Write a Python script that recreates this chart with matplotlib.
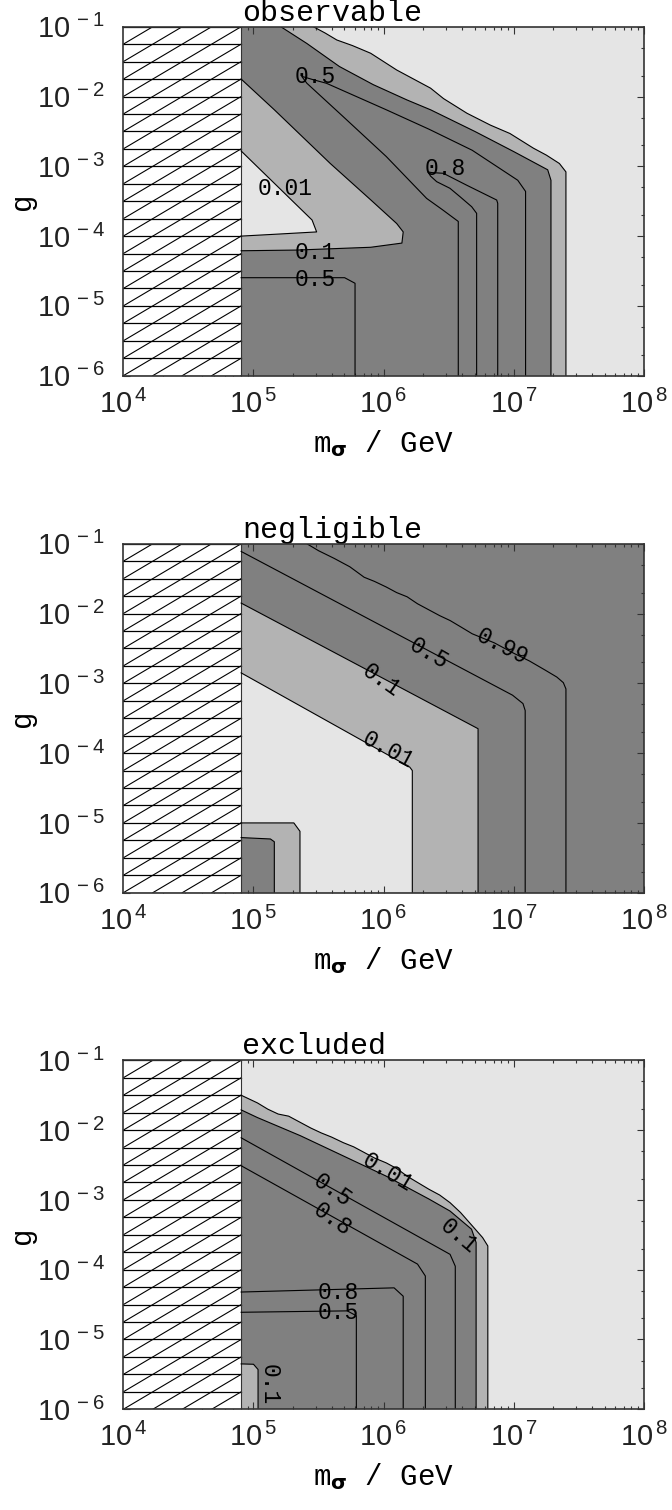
"""
Three panels of the sigma mass / coupling plane, shaded by fraction
(observable, negligible, excluded), with the hatched mass cut on the left.
"""

import numpy as np
import matplotlib.pyplot as plt
from matplotlib.ticker import LogLocator, NullFormatter, FuncFormatter
import matplotlib.patches as patches

plt.rcParams['font.family'] = 'Liberation Sans'
plt.rcParams['mathtext.fontset'] = 'custom'
plt.rcParams['mathtext.bf'] = 'DejaVu Sans:bold'

DARK = '#808080'
MID = '#b3b3b3'
LIGHT = '#e5e5e5'
MONO = 'Liberation Mono'

# log10 of the mass cut, everything left of it is hatched
M_CUT = 4.905

# ---- observable: contour lines as (log10 m, log10 g) ----
obs_out001_m = [5.46, 5.55, 5.64, 5.76, 5.90, 6.00, 6.10, 6.22, 6.36, 6.46, 6.64, 6.82, 6.97, 7.15, 7.25, 7.35, 7.40, 7.40]
obs_out001_g = [-1.00, -1.09, -1.19, -1.27, -1.38, -1.50, -1.62, -1.74, -1.88, -2.03, -2.24, -2.41, -2.53, -2.74, -2.84, -2.96, -3.08, -6.0]
obs_out01_m = [5.21, 5.41, 5.66, 5.92, 6.18, 6.36, 6.70, 7.00, 7.26, 7.285, 7.285]
obs_out01_g = [-1.00, -1.24, -1.57, -1.83, -2.05, -2.19, -2.50, -2.79, -3.05, -3.20, -6.0]
obs_in01_m = [M_CUT, 5.16, 5.59, 5.90, 6.10, 6.15, 6.14, 5.90, 5.33, M_CUT]
obs_in01_g = [-1.75, -2.19, -2.96, -3.48, -3.82, -3.94, -4.10, -4.16, -4.20, -4.21]
obs_in001_m = [M_CUT, 5.45, 5.485, 5.20, M_CUT]
obs_in001_g = [-2.78, -3.77, -3.94, -3.97, -4.00]
obs_05up_m = [6.573, 6.573, 6.45, 6.33, 6.02, 5.69, 5.41, 5.37, 5.46, 5.56, 6.02, 6.35, 6.68, 7.03, 7.06, 7.09, 7.09]
obs_05up_g = [-6.0, -3.79, -3.62, -3.46, -2.86, -2.29, -1.81, -1.71, -1.76, -1.81, -2.19, -2.47, -2.77, -3.20, -3.28, -3.36, -6.0]
obs_08_m = [6.714, 6.714, 6.676, 6.586, 6.509, 6.407, 6.36, 6.34, 6.37, 6.458, 6.637, 6.868, 6.876, 6.876]
obs_08_g = [-6.0, -3.674, -3.579, -3.435, -3.315, -3.22, -3.14, -3.08, -3.09, -3.10, -3.27, -3.483, -3.53, -6.0]
obs_05lo_m = [M_CUT, 5.70, 5.78, 5.78]
obs_05lo_g = [-4.596, -4.596, -4.676, -6.0]
obs_labels = ['0.5', '0.8', '0.01', '0.1', '0.5']
obs_label_m = [5.478, 6.476, 5.242, 5.478, 5.478]
obs_label_g = [-1.716, -3.03, -3.315, -4.232, -4.619]
obs_label_rot = [0, 0, 0, 0, 0]

# ---- negligible ----
neg_099_m = [5.41, 5.50, 5.62, 5.74, 5.85, 5.93, 6.02, 6.10, 6.18, 6.26, 6.35, 6.43, 6.51, 6.60, 6.68, 6.85, 7.00, 7.12, 7.24, 7.33, 7.38, 7.40, 7.40]
neg_099_g = [-1.00, -1.10, -1.21, -1.33, -1.48, -1.54, -1.62, -1.70, -1.76, -1.86, -1.95, -2.03, -2.10, -2.20, -2.29, -2.42, -2.57, -2.68, -2.81, -2.91, -2.99, -3.08, -6.0]
neg_05_m = [M_CUT, 6.99, 7.07, 7.087, 7.087]
neg_05_g = [-1.11, -3.17, -3.29, -3.39, -6.0]
neg_01_m = [M_CUT, 6.725, 6.725]
neg_01_g = [-1.85, -3.65, -6.0]
neg_001_m = [M_CUT, 6.20, 6.22, 6.22]
neg_001_g = [-2.85, -4.20, -4.25, -6.0]
neg_boxlo_m = [M_CUT, 5.31, 5.357, 5.357]
neg_boxlo_g = [-5.0, -5.0, -5.12, -6.0]
neg_boxhi_m = [M_CUT, 5.13, 5.16, 5.16]
neg_boxhi_g = [-5.21, -5.23, -5.27, -6.0]
neg_labels = ['0.99', '0.5', '0.1', '0.01']
neg_label_m = [6.906, 6.346, 5.984, 6.033]
neg_label_g = [-2.48, -2.576, -2.958, -3.961]
neg_label_rot = [-27, -30, -35, -28]

# ---- excluded ----
exc_001_m = [M_CUT, 5.03, 5.11, 5.19, 5.27, 5.36, 5.44, 5.52, 5.60, 5.69, 5.77, 5.85, 5.93, 6.02, 6.10, 6.18, 6.26, 6.35, 6.43, 6.51, 6.59, 6.68, 6.76, 6.80, 6.80]
exc_001_g = [-1.50, -1.61, -1.70, -1.77, -1.80, -1.89, -1.97, -2.04, -2.10, -2.18, -2.24, -2.32, -2.40, -2.47, -2.55, -2.66, -2.75, -2.85, -2.93, -3.04, -3.18, -3.37, -3.54, -3.66, -6.0]
exc_01_m = [M_CUT, 5.03, 5.36, 5.69, 6.02, 6.35, 6.51, 6.675, 6.71, 6.71]
exc_01_g = [-1.71, -1.82, -2.08, -2.37, -2.66, -2.99, -3.16, -3.42, -3.61, -6.0]
exc_05_m = [M_CUT, 6.51, 6.55, 6.55]
exc_05_g = [-2.11, -3.78, -3.95, -6.0]
exc_08_m = [M_CUT, 6.26, 6.32, 6.32]
exc_08_g = [-2.51, -3.92, -4.09, -6.0]
exc_08lo_m = [M_CUT, 6.08, 6.15, 6.15]
exc_08lo_g = [-4.32, -4.26, -4.38, -6.0]
exc_05lo_m = [M_CUT, 5.72, 5.79, 5.79]
exc_05lo_g = [-4.61, -4.59, -4.66, -6.0]
exc_box_m = [M_CUT, 5.0, 5.035, 5.035]
exc_box_g = [-5.35, -5.355, -5.43, -6.0]
exc_labels = ['0.01', '0.5', '0.8', '0.1', '0.8', '0.5', '0.1']
exc_label_m = [6.033, 5.605, 5.605, 6.577, 5.654, 5.654, 5.12]
exc_label_g = [-2.609, -2.872, -3.278, -3.517, -4.329, -4.616, -5.642]
exc_label_rot = [-31, -35, -35, -40, 0, 0, -90]


def fillregion(ax, lm, lg, color):
    """
    Fills the area between a contour line and the mass cut / bottom edge
    """
    pts = list(zip(lm, lg))
    if lg[0] == -1.0:
        pts.insert(0, (M_CUT, -1.0))
    if lg[-1] == -6.0:
        pts.append((M_CUT, -6.0))
    pts = np.array(pts)
    ax.fill(10 ** pts[:, 0], 10 ** pts[:, 1], color=color, lw=0, zorder=1)


def hatch(ax):
    """
    White box left of the mass cut with horizontal and slanted lines
    """
    rect = patches.Rectangle((1e4, 1e-6), 10 ** M_CUT - 1e4, 1e-1 - 1e-6,
                             facecolor='white', edgecolor='none', zorder=2)
    ax.add_patch(rect)
    for k in range(21):
        y = 10 ** (-6 + k * 0.25)
        ax.plot([1e4, 10 ** M_CUT], [y, y], color='k', lw=0.9, zorder=3)
    dm = (M_CUT - 4) / 4
    for k in range(-25, 6):
        lm = np.array([4 + k * dm, 4 + (k + 25) * dm])
        lg = -6 + (lm - 4 - k * dm) * 0.25 / dm
        line, = ax.plot(10 ** lm, 10 ** lg, color='k', lw=0.8, zorder=3)
        line.set_clip_path(rect)
    ax.axvline(10 ** M_CUT, color='#333333', lw=0.8, zorder=3)


def powlabel(v, pos):
    """ 10^n tick label with a little gap before the exponent """
    return r'$\mathdefault{10^{\,%d}}$' % int(round(np.log10(v)))


def setupaxes(ax, title):
    """
    Log axes, ticks inward all round, labels and title
    """
    ax.set_xscale('log')
    ax.set_yscale('log')
    ax.set_xlim(1e4, 1e8)
    ax.set_ylim(1e-6, 1e-1)
    ax.xaxis.set_major_locator(LogLocator(base=10, numticks=10))
    ax.yaxis.set_major_locator(LogLocator(base=10, numticks=10))
    ax.xaxis.set_minor_locator(LogLocator(base=10, subs=range(2, 10), numticks=20))
    ax.yaxis.set_minor_locator(LogLocator(base=10, subs=(2, 5), numticks=20))
    ax.xaxis.set_major_formatter(FuncFormatter(powlabel))
    ax.yaxis.set_major_formatter(FuncFormatter(powlabel))
    ax.xaxis.set_minor_formatter(NullFormatter())
    ax.yaxis.set_minor_formatter(NullFormatter())
    ax.tick_params(which='both', direction='in', top=True, right=True,
                   color='#333333', width=0.8, labelsize=21, labelcolor='#222222')
    ax.tick_params(which='major', length=5)
    ax.tick_params(which='minor', length=2.5)
    ax.tick_params(axis='x', which='major', pad=10)
    ax.tick_params(axis='y', which='major', pad=13)
    for sp in ax.spines.values():
        sp.set_linewidth(1.2)
        sp.set_color('#333333')
        sp.set_zorder(6)
    ax.set_xlabel(r'm$_{\mathbf{σ}}$ / GeV', fontfamily=MONO, fontsize=21)
    ax.xaxis.set_label_coords(0.5, -0.15)
    ax.set_ylabel('g', fontfamily=MONO, fontsize=21)
    ax.yaxis.set_label_coords(-0.168, 0.5)
    ax.text(0.228, 1.017, title, transform=ax.transAxes, fontfamily=MONO,
            fontsize=21.6, va='baseline', ha='left')


def plotpanel(ax, base, fills, lines, labels, title):
    """
    Draws one panel: shading, contour lines, labels, hatch and axes
    """
    ax.fill([10 ** M_CUT, 1e8, 1e8, 10 ** M_CUT], [1e-6, 1e-6, 1e-1, 1e-1],
            color=base, lw=0, zorder=0)
    for lm, lg, color in fills:
        fillregion(ax, lm, lg, color)
    for lm, lg in lines:
        ax.plot(10 ** np.array(lm), 10 ** np.array(lg), color='k', lw=0.8, zorder=4)
    for txt, lm, lg, rot in zip(*labels):
        ax.text(10 ** lm, 10 ** lg, txt, rotation=rot, ha='center', va='center',
                rotation_mode='anchor', fontfamily=MONO, fontsize=16.5, zorder=5)
    hatch(ax)
    setupaxes(ax, title)


fig = plt.figure(figsize=(6.72, 15.10), dpi=100)
left, width, height = 0.1835, 0.7749, 0.2311
ax1 = fig.add_axes([left, 0.7512, width, height])
ax2 = fig.add_axes([left, 0.4088, width, height])
ax3 = fig.add_axes([left, 0.0667, width, height])

plotpanel(ax1, LIGHT,
          [(obs_out001_m, obs_out001_g, MID), (obs_out01_m, obs_out01_g, DARK),
           (obs_in01_m, obs_in01_g, MID), (obs_in001_m, obs_in001_g, LIGHT)],
          [(obs_out001_m, obs_out001_g), (obs_out01_m, obs_out01_g),
           (obs_in01_m, obs_in01_g), (obs_in001_m, obs_in001_g),
           (obs_05up_m, obs_05up_g), (obs_08_m, obs_08_g), (obs_05lo_m, obs_05lo_g)],
          (obs_labels, obs_label_m, obs_label_g, obs_label_rot), 'observable')

plotpanel(ax2, DARK,
          [(neg_01_m, neg_01_g, MID), (neg_001_m, neg_001_g, LIGHT),
           (neg_boxlo_m, neg_boxlo_g, MID), (neg_boxhi_m, neg_boxhi_g, DARK)],
          [(neg_099_m, neg_099_g), (neg_05_m, neg_05_g), (neg_01_m, neg_01_g),
           (neg_001_m, neg_001_g), (neg_boxlo_m, neg_boxlo_g), (neg_boxhi_m, neg_boxhi_g)],
          (neg_labels, neg_label_m, neg_label_g, neg_label_rot), 'negligible')

plotpanel(ax3, LIGHT,
          [(exc_001_m, exc_001_g, MID), (exc_01_m, exc_01_g, DARK),
           (exc_box_m, exc_box_g, MID)],
          [(exc_001_m, exc_001_g), (exc_01_m, exc_01_g), (exc_05_m, exc_05_g),
           (exc_08_m, exc_08_g), (exc_08lo_m, exc_08lo_g), (exc_05lo_m, exc_05lo_g),
           (exc_box_m, exc_box_g)],
          (exc_labels, exc_label_m, exc_label_g, exc_label_rot), 'excluded')

fig.savefig('out.png', dpi=100)
